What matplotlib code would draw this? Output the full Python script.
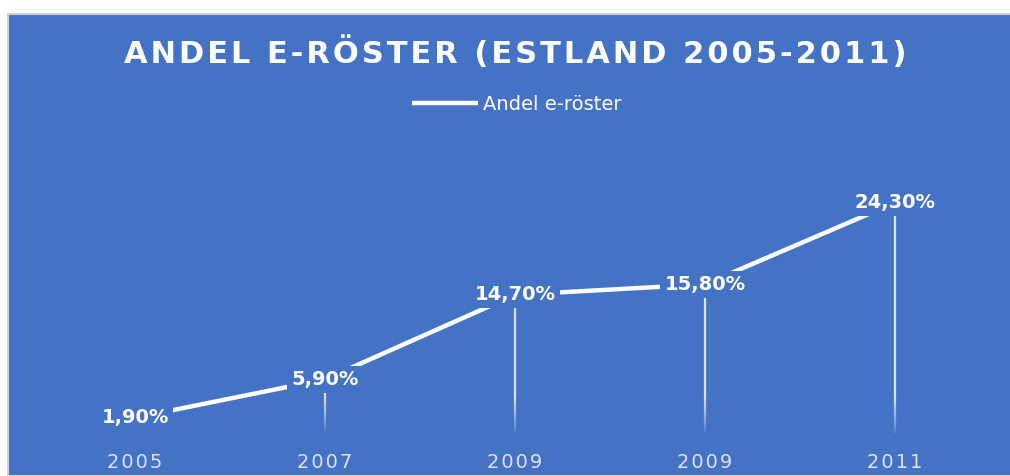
import numpy as np
import matplotlib
matplotlib.use('Agg')
from matplotlib import pyplot as plt
from matplotlib.patches import Rectangle
from matplotlib.collections import LineCollection

# data
years = ['2005', '2007', '2009', '2009', '2011']
shares = [1.9, 5.9, 14.7, 15.8, 24.3]
share_labels = ['1,90%', '5,90%', '14,70%', '15,80%', '24,30%']
series_name = 'Andel e-röster'
title = 'ANDEL E-RÖSTER (ESTLAND 2005-2011)'

blue = '#4472C4'
hair = '\u200a'

fig = plt.figure(figsize=(10.1, 4.76), dpi=100)
fig.patch.set_facecolor('white')

# blue chart area with thin grey border
fig.patches.append(Rectangle((8 / 1010, 0), 1.0, (476 - 14) / 476,
                             transform=fig.transFigure, facecolor=blue,
                             edgecolor='#D0D0D0', linewidth=1.5, zorder=-5))

ax = fig.add_axes([40 / 1010, 40 / 476, 950 / 1010, 288 / 476])
ax.set_zorder(2)
ax.set_facecolor('none')
for s in ax.spines.values():
  s.set_visible(False)

x = np.arange(len(years))
ax.plot(x, shares, color='white', linewidth=3.2, solid_capstyle='butt',
        zorder=2, label=series_name)

# fading drop lines
for xi, yi in zip(x, shares):
  ys = np.linspace(0, yi, 80)
  segs = [[(xi, ys[i]), (xi, ys[i + 1])] for i in range(len(ys) - 1)]
  frac = np.clip((ys[1:] - 0.3) / 4.0, 0, 1)
  alphas = frac ** 0.8 * 0.8
  cols = [(1, 1, 1, a) for a in alphas]
  ax.add_collection(LineCollection(segs, colors=cols, linewidths=1.6,
                                   zorder=1))

for xi, yi, lab in zip(x, shares, share_labels):
  ax.text(xi, yi, lab, ha='center', va='center', color='white',
          fontsize=14, fontweight='bold', zorder=3,
          bbox=dict(facecolor=blue, edgecolor='none', pad=3))

ax.set_xlim(-0.5, len(years) - 0.5)
ax.set_ylim(0, 30)
ax.set_xticks(x)
ax.set_xticklabels([hair.join(y) for y in years], color='#DDE3F2',
                   fontsize=14)
ax.tick_params(axis='x', length=0, pad=12)
ax.set_yticks([])

fig.text(0.51, 1 - 53 / 476, hair.join(title), ha='center', va='center',
         color='white', fontsize=22, fontweight='bold')

leg = fig.legend(loc='center', bbox_to_anchor=(0.512, 1 - 104 / 476),
                 frameon=False, fontsize=14, handlelength=3.4,
                 handletextpad=0.25)
for t in leg.get_texts():
  t.set_color('white')

fig.savefig('out.png', dpi=100)
